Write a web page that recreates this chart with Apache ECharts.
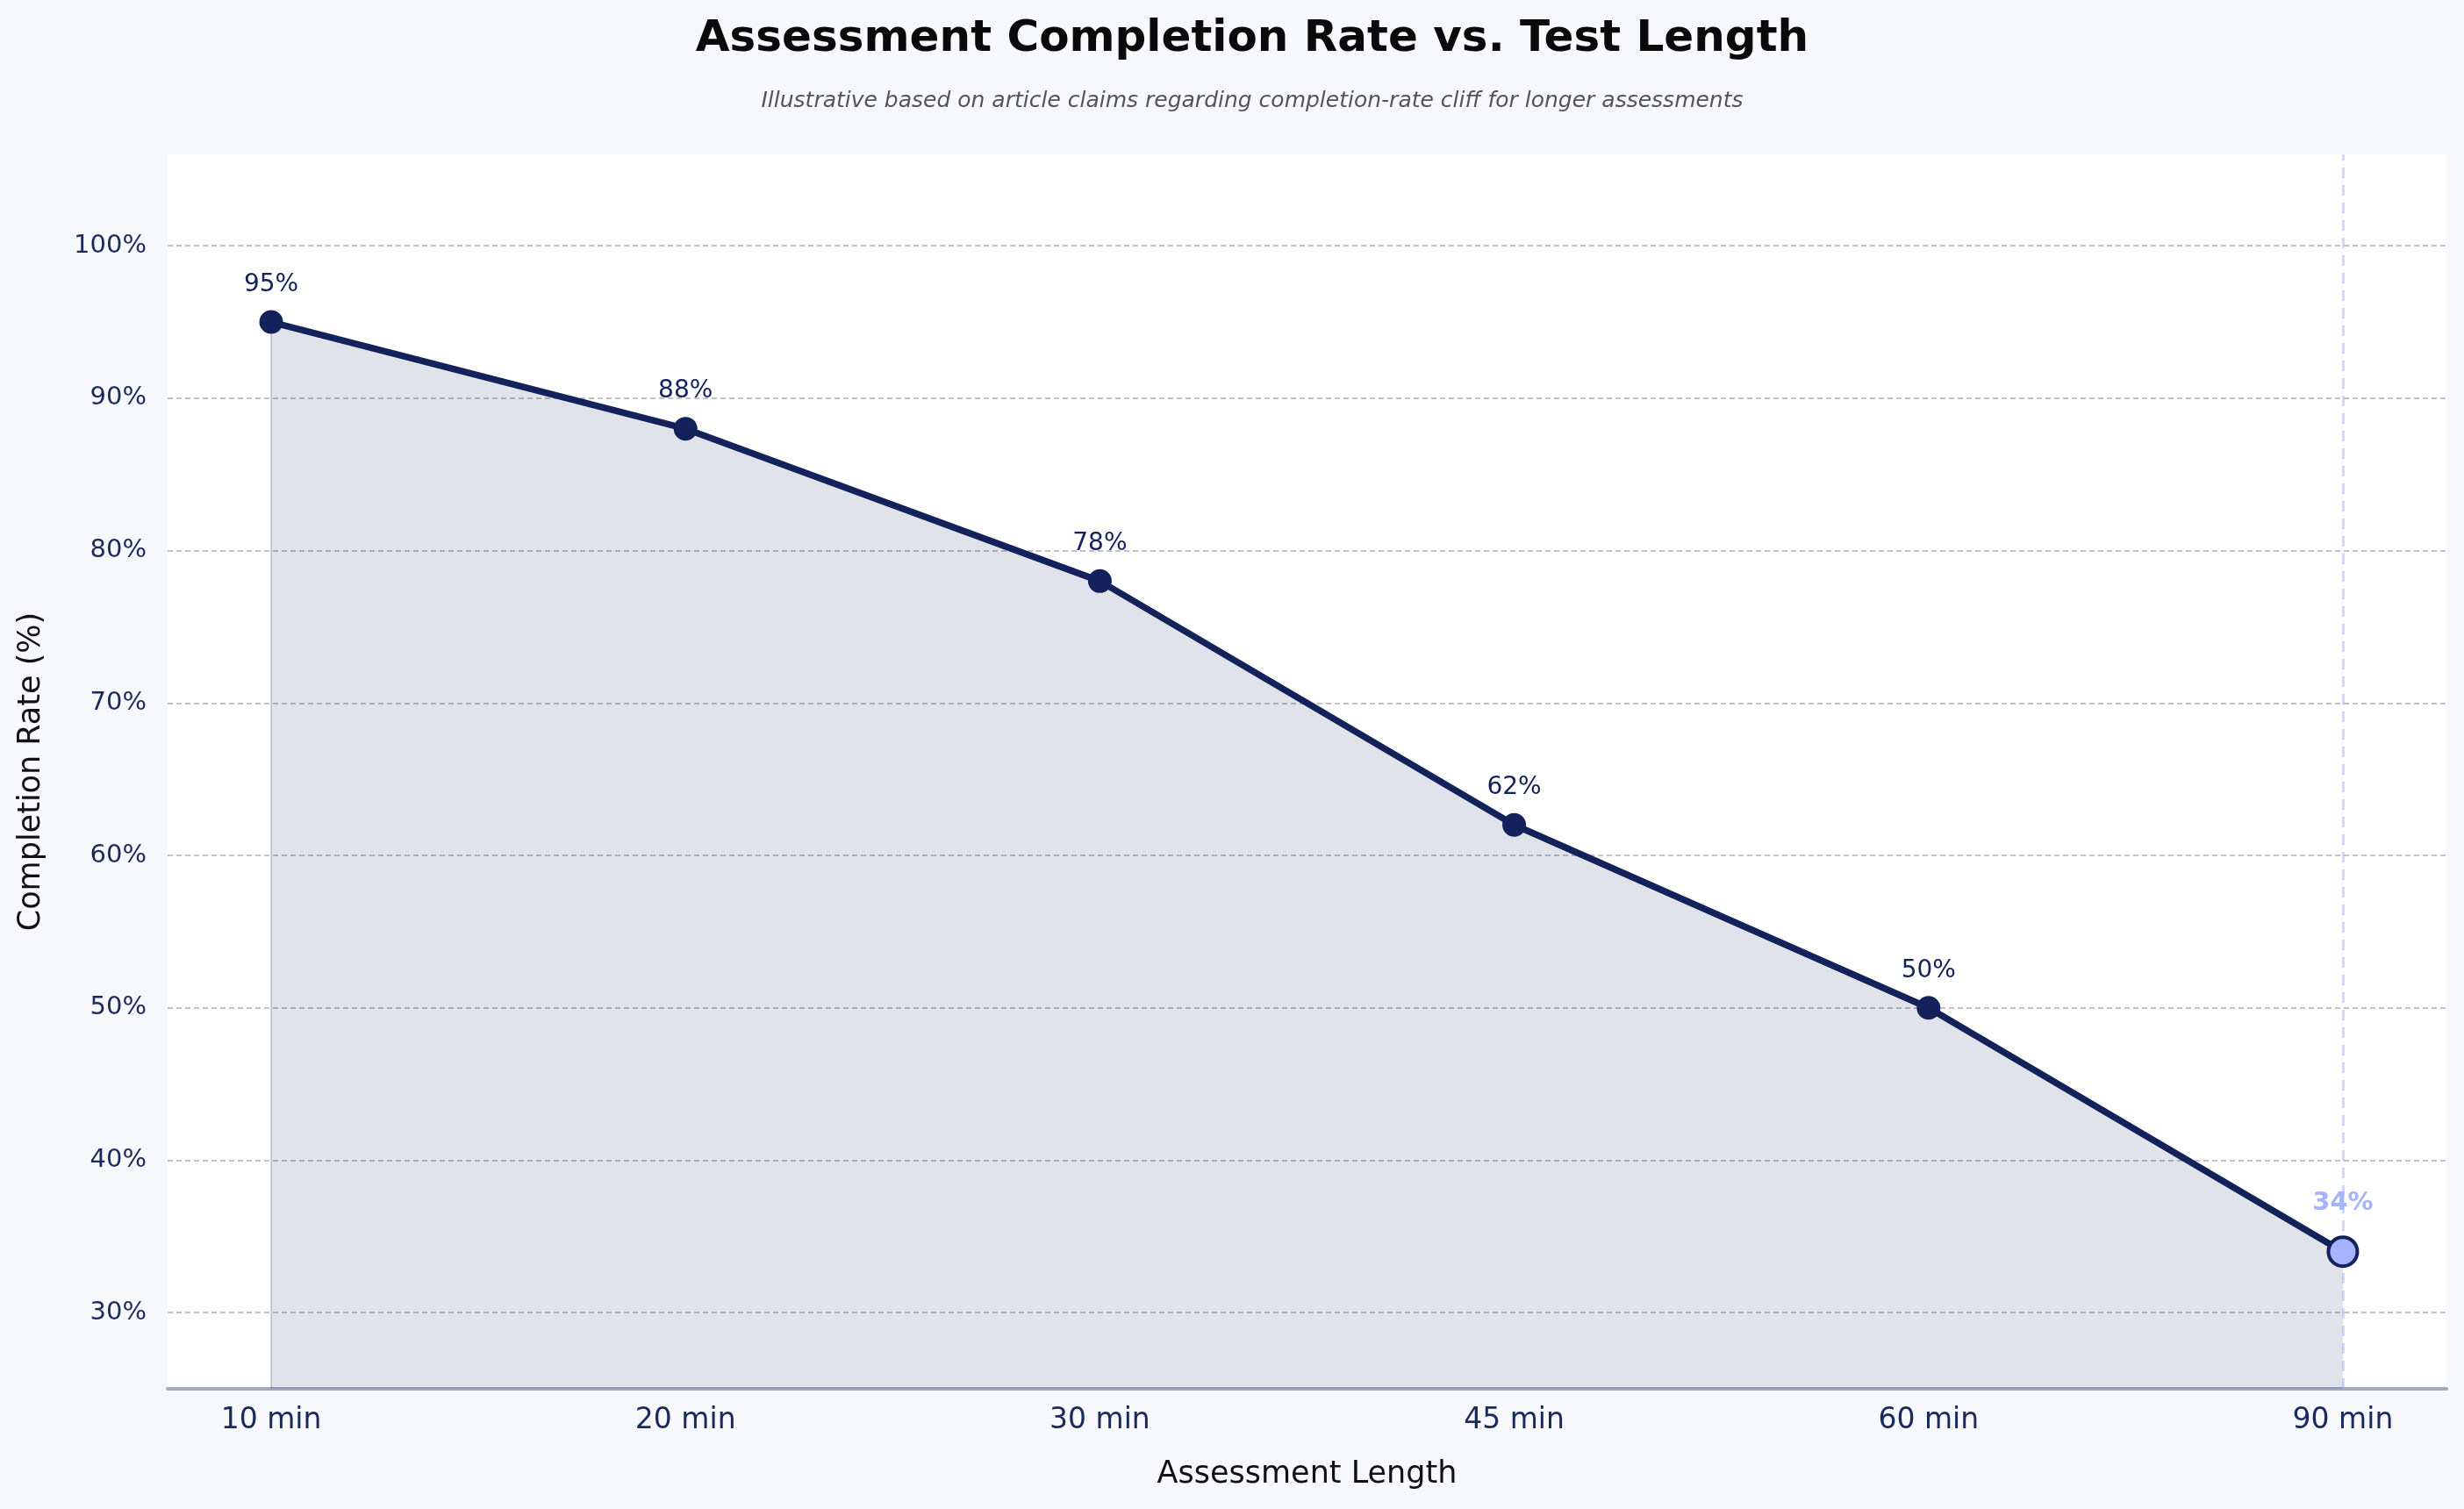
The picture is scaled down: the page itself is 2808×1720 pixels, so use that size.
<!DOCTYPE html>
<html>
<head>
<meta charset="utf-8">
<title>Assessment Completion Rate vs. Test Length</title>
<script src="https://cdn.jsdelivr.net/npm/echarts@6/dist/echarts.min.js"></script>
<style>
  html, body { margin: 0; padding: 0; background: #f7f8fc; }
  #chart { width: 2808px; height: 1720px; }
</style>
</head>
<body>
<div id="chart"></div>
<script>
// data
const lengths = ['10 min', '20 min', '30 min', '45 min', '60 min', '90 min'];
const completion = [95, 88, 78, 62, 50, 34];
const yTicks = [30, 40, 50, 60, 70, 80, 90, 100];
const yMin = 25, yMax = 106;

const navy = '#13225a';
const highlight = '#a5b4fc';
const font = 'DejaVu Sans';

window.onload = () => {
    let chart = echarts.init(document.getElementById('chart'));
    let last = lengths.length - 1;

    let points = completion.map((v, i) => {
        let p = { value: [i, v] };
        if (i === last) {
            p.symbolSize = 33;
            p.itemStyle = { color: highlight, borderColor: navy, borderWidth: 4 };
            p.label = { color: highlight, fontWeight: 'bold', fontSize: 29, distance: 22 };
        }
        return p;
    });

    let option = {
        backgroundColor: '#f7f8fc',
        textStyle: { fontFamily: font },
        // titles sit a little right of page centre, like the original
        title: [{
            text: 'Assessment Completion Rate vs. Test Length',
            left: 1422,
            textAlign: 'center',
            top: 15,
            textStyle: { fontSize: 50, fontWeight: 'bold', color: '#0a0a0a', fontFamily: font }
        }, {
            text: 'Illustrative based on article claims regarding completion-rate cliff for longer assessments',
            left: 1422,
            textAlign: 'center',
            top: 98,
            textStyle: { fontSize: 25, fontStyle: 'italic', fontWeight: 'normal', color: '#555', fontFamily: font }
        }],
        grid: {
            left: 191, right: 20, top: 176, bottom: 137,
            show: true, backgroundColor: '#ffffff', borderWidth: 0
        },
        xAxis: {
            type: 'value',
            min: -0.25,
            max: last + 0.25,
            name: 'Assessment Length',
            nameLocation: 'middle',
            nameGap: 80,
            nameTextStyle: { fontSize: 35, color: '#111' },
            axisLine: { show: true, onZero: false, lineStyle: { color: '#a3a9bf', width: 4 } },
            axisTick: { show: false, customValues: lengths.map((_, i) => i) },
            splitLine: { show: false },
            axisLabel: {
                customValues: lengths.map((_, i) => i),
                formatter: v => lengths[Math.round(v)],
                fontSize: 33, color: '#1a2a5e', margin: 20
            }
        },
        yAxis: {
            type: 'value',
            min: yMin,
            max: yMax,
            name: 'Completion Rate (%)',
            nameLocation: 'middle',
            nameGap: 138,
            nameTextStyle: { fontSize: 35, color: '#111' },
            axisLine: { show: false },
            axisTick: { show: false, customValues: yTicks },
            axisLabel: {
                customValues: yTicks,
                formatter: v => v + '%',
                fontSize: 29, color: '#1a2a5e', margin: 24
            },
            splitLine: { show: true, lineStyle: { color: '#c2c2c2', width: 2, type: [6, 4] } }
        },
        series: [{
            type: 'line',
            data: points,
            symbol: 'circle',
            symbolSize: 27,
            lineStyle: { color: navy, width: 7.5 },
            itemStyle: { color: navy },
            areaStyle: { origin: 'start', color: 'rgba(19,35,91,0.13)', opacity: 1 },
            label: {
                show: true,
                position: 'top',
                distance: 15,
                fontSize: 28,
                color: navy,
                formatter: p => p.value[1] + '%'
            },
            markLine: {
                silent: true,
                symbol: 'none',
                z: 1,
                label: { show: false },
                data: [
                    { xAxis: last, lineStyle: { color: 'rgba(165,180,252,0.5)', width: 3, type: [12, 8] } },
                    [
                        { coord: [0, yMin], lineStyle: { color: 'rgba(19,35,91,0.18)', width: 2, type: 'solid' } },
                        { coord: [0, completion[0]] }
                    ]
                ]
            },
            z: 3
        }]
    };
    chart.setOption(option);
};
</script>
</body>
</html>
